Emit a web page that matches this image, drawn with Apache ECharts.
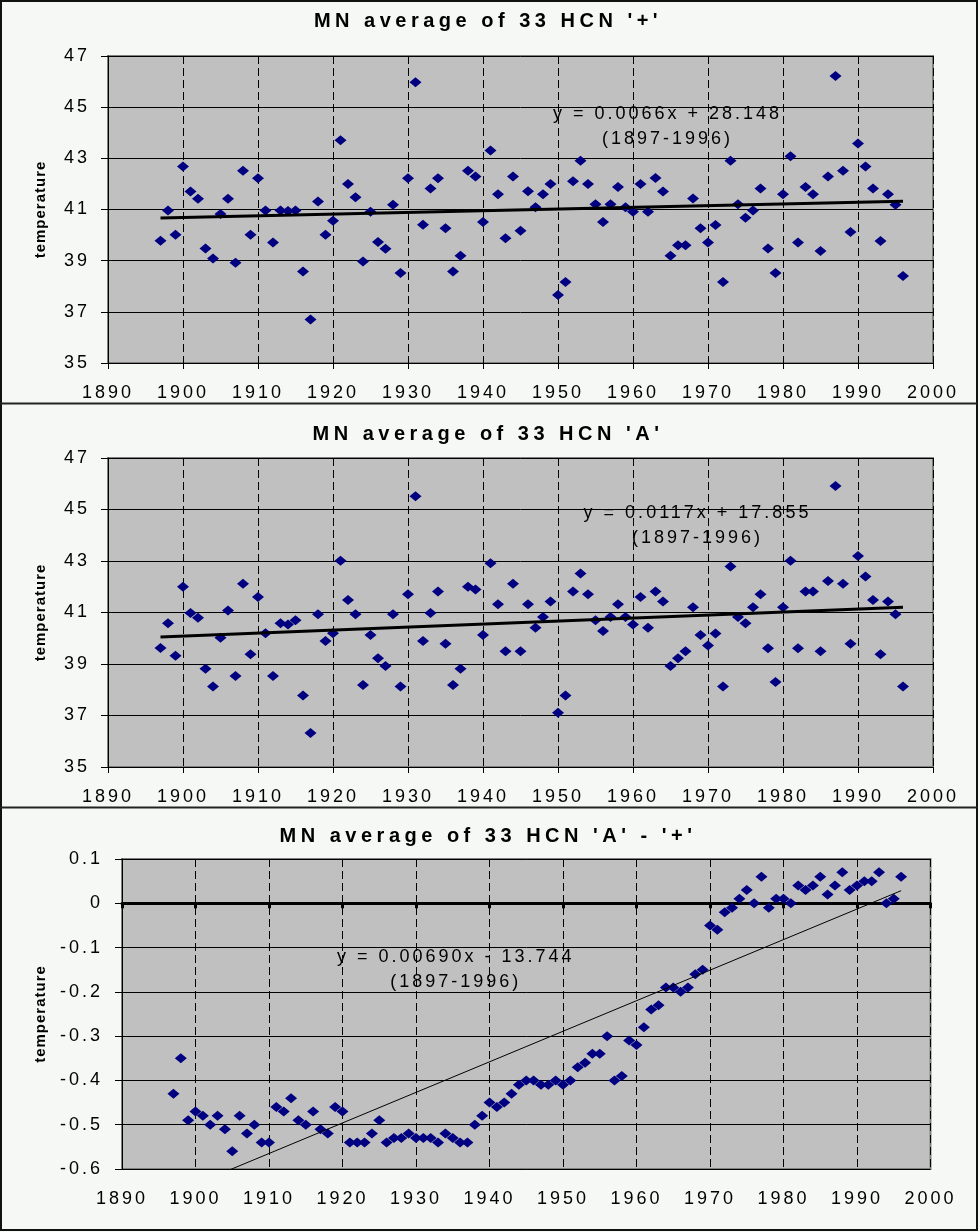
<!DOCTYPE html>
<html>
<head>
<meta charset="utf-8">
<script src="https://cdn.jsdelivr.net/npm/echarts@6/dist/echarts.min.js"></script>
<style>
html,body{margin:0;padding:0;background:#f5f8f5;}
#chart{width:980px;height:1232px;}
</style>
</head>
<body>
<div id="chart"></div>
<script>
// ---- data ----
const startYear = 1897, endYear = 1996;
const years = [];
for (let y = startYear; y <= endYear; y++) years.push(y);

const plusVals = [39.78,40.96,40.01,42.68,41.70,41.42,39.48,39.08,40.82,41.42,
 38.92,42.51,40.01,42.22,40.96,39.71,40.96,40.94,40.96,38.58,
 36.70,41.31,40.01,40.56,43.71,42.00,41.48,38.97,40.91,39.73,
 39.47,41.19,38.52,42.22,45.97,40.40,41.82,42.22,40.27,38.58,
 39.19,42.51,42.29,40.51,43.31,41.60,39.88,42.29,40.17,41.71,
 41.09,41.60,42.00,37.66,38.17,42.10,42.91,42.00,41.21,40.51,
 41.21,41.88,41.09,40.91,42.00,40.91,42.23,41.70,39.19,39.60,
 39.60,41.43,40.27,39.71,40.39,38.17,42.91,41.21,40.68,40.96,
 41.82,39.48,38.52,41.60,43.08,39.71,41.88,41.60,39.38,42.29,
 46.22,42.51,40.12,43.58,42.68,41.82,39.77,41.60,41.19,38.40];

const aVals = [39.62,40.58,39.32,42.00,40.98,40.80,38.82,38.13,40.02,41.08,
 38.53,42.12,39.38,41.60,40.19,38.53,40.58,40.53,40.70,37.78,
 36.32,40.93,39.89,40.19,43.01,41.49,40.93,38.18,40.13,39.22,
 38.92,40.93,38.13,41.71,45.51,39.89,40.98,41.82,39.79,38.18,
 38.82,42.00,41.89,40.13,42.91,41.32,39.50,42.12,39.50,41.32,
 40.41,40.83,41.43,37.11,37.78,41.82,42.51,41.71,40.70,40.28,
 40.83,41.32,40.83,40.53,41.60,40.41,41.82,41.43,38.92,39.22,
 39.50,41.20,40.13,39.72,40.18,38.13,42.79,40.83,40.58,41.20,
 41.71,39.61,38.30,41.20,43.01,39.61,41.82,41.82,39.50,42.22,
 45.91,42.12,39.79,43.19,42.40,41.49,39.38,41.43,40.93,38.13];

const diffVals = [-0.43,-0.35,-0.49,-0.47,-0.48,-0.50,-0.48,-0.51,-0.56,-0.48,
 -0.52,-0.50,-0.54,-0.54,-0.46,-0.47,-0.44,-0.49,-0.50,-0.47,
 -0.51,-0.52,-0.46,-0.47,-0.54,-0.54,-0.54,-0.52,-0.49,-0.54,
 -0.53,-0.53,-0.52,-0.53,-0.53,-0.53,-0.54,-0.52,-0.53,-0.54,
 -0.54,-0.50,-0.48,-0.45,-0.46,-0.45,-0.43,-0.41,-0.40,-0.40,
 -0.41,-0.41,-0.40,-0.41,-0.40,-0.37,-0.36,-0.34,-0.34,-0.30,
 -0.40,-0.39,-0.31,-0.32,-0.28,-0.24,-0.23,-0.19,-0.19,-0.20,
 -0.19,-0.16,-0.15,-0.05,-0.06,-0.02,-0.01,0.01,0.03,0.00,
 0.06,-0.01,0.01,0.01,0.00,0.04,0.03,0.04,0.06,0.02,
 0.04,0.07,0.03,0.04,0.05,0.05,0.07,0.00,0.01,0.06];

const titles = ["MN average of 33 HCN '+'", "MN average of 33 HCN 'A'", "MN average of 33 HCN 'A' - '+'"];
const trendSlopes = [0.0066, 0.0117, 0.00690];
const trendIntercepts = [28.148, 17.855, -13.744];
const equations = ["y = 0.0066x + 28.148", "y = 0.0117x + 17.855", "y = 0.00690x - 13.744"];
const rangeLabel = "(1897-1996)";
const eqAnchors = [[1964.6, 44.26], [1968.6, 44.39], [1935.4, -0.15]];
const xTicks = {min: 1890, max: 2000, interval: 10};
const yTicks = [{min: 35, max: 47, interval: 2}, {min: 35, max: 47, interval: 2}, {min: -0.6, max: 0.1, interval: 0.1}];
const yName = "temperature";

// ---- letter spacing to mimic the spaced-out text of the original ----
(function(){
  const P = CanvasRenderingContext2D.prototype;
  const orig = P.fillText;
  P.fillText = function(t, x, y, m){
    const mm = /(\d+(?:\.\d+)?)px/.exec(this.font || '');
    const s = mm ? parseFloat(mm[1]) : 0;
    let ls = '0px';
    if (s >= 20) ls = '4.5px'; else if (s >= 17) ls = '3px'; else if (s >= 14) ls = '1px';
    try { this.letterSpacing = ls; } catch(e) {}
    return m === undefined ? orig.call(this, t, x, y) : orig.call(this, t, x, y, m);
  };
})();

const FONT = 'Liberation Sans';
const grids = [
  {left: 108, top: 56, width: 825, height: 307},
  {left: 108, top: 458, width: 825, height: 309},
  {left: 122, top: 859, width: 808.5, height: 310}
].map(g => Object.assign(g, {show: true, backgroundColor: '#c0c0c0', borderColor: '#808080', borderWidth: 2, containLabel: false}));

function xAxisBase(gi){
  return {
    type: 'value', gridIndex: gi, min: xTicks.min, max: xTicks.max, interval: xTicks.interval,
    position: 'bottom',
    axisLine: {show: true, onZero: false, lineStyle: {color: '#000', width: 1}},
    axisTick: {show: true, length: 6, lineStyle: {color: '#000'}},
    axisLabel: {fontSize: 18, color: '#000', fontFamily: FONT, margin: 21, formatter: v => String(Math.round(v))},
    splitLine: {show: true, lineStyle: {color: '#000', width: 1, type: [8, 4]}}
  };
}
const xAxes = [xAxisBase(0), xAxisBase(1), xAxisBase(2)];
xAxes[2].axisLine = {show: false, onZero: false};
xAxes[2].axisTick = {show: false};
xAxes.push({
  type: 'value', gridIndex: 2, min: xTicks.min, max: xTicks.max, interval: xTicks.interval,
  position: 'top',
  axisLine: {show: true, onZero: true, lineStyle: {color: '#000', width: 3}},
  axisTick: {show: true, inside: true, length: 5, lineStyle: {color: '#000', width: 3}},
  axisLabel: {show: false},
  splitLine: {show: false}
});

const yAxes = yTicks.map((t, i) => ({
  type: 'value', gridIndex: i, min: t.min, max: t.max, interval: t.interval,
  axisLine: {show: true, onZero: false, lineStyle: {color: '#000', width: 1}},
  axisTick: {show: true, length: 7, lineStyle: {color: '#000'}},
  axisLabel: {fontSize: 18, color: '#000', fontFamily: FONT, margin: i === 2 ? 19 : 18,
    formatter: v => String(+(+v).toFixed(i === 2 ? 1 : 0))},
  splitLine: {show: true, lineStyle: {color: '#000', width: 1}},
  name: yName, nameLocation: 'middle', nameGap: i === 2 ? 74 : 60,
  nameTextStyle: {fontWeight: 'bold', fontSize: 15, color: '#000', fontFamily: FONT}
}));

const seriesVals = [plusVals, aVals, diffVals];
const series = [];
seriesVals.forEach((vals, i) => {
  series.push({
    type: 'scatter', xAxisIndex: i, yAxisIndex: i,
    symbol: 'diamond', symbolSize: [12, 10],
    itemStyle: {color: '#000080', opacity: 1},
    data: years.map((y, k) => [y, vals[k]]),
    silent: true, z: 2
  });
  const a = trendSlopes[i], b = trendIntercepts[i];
  series.push({
    type: 'line', xAxisIndex: i, yAxisIndex: i,
    symbol: 'none', clip: true, silent: true, z: 3,
    lineStyle: {color: '#000', width: i === 2 ? 1 : 3},
    data: [[startYear, a * startYear + b], [endYear, a * endYear + b]],
    markPoint: {
      silent: true, symbolSize: 0,
      data: [{coord: eqAnchors[i], symbolSize: 0,
        label: {show: true, position: 'inside', formatter: equations[i] + '\n' + rangeLabel,
          fontSize: 18, color: '#000', fontFamily: FONT, lineHeight: 25, align: 'center', verticalAlign: 'middle'}}]
    }
  });
});

const titleTops = [6, 419, 821];
const option = {
  animation: false,
  backgroundColor: '#f5f8f5',
  title: titles.map((t, i) => ({
    text: t, left: 483, top: titleTops[i], textAlign: 'center',
    textStyle: {fontSize: 20, fontWeight: 'bold', color: '#000', fontFamily: FONT}
  })),
  grid: grids,
  xAxis: xAxes,
  yAxis: yAxes,
  series: series,
  graphic: [
    {type: 'rect', silent: true, z: 100, shape: {x: 1, y: 1, width: 976, height: 1229}, style: {fill: 'none', stroke: '#111', lineWidth: 2}},
    {type: 'line', silent: true, z: 100, shape: {x1: 0, y1: 403.5, x2: 977, y2: 403.5}, style: {stroke: '#222', lineWidth: 2}},
    {type: 'line', silent: true, z: 100, shape: {x1: 0, y1: 807.5, x2: 977, y2: 807.5}, style: {stroke: '#222', lineWidth: 2}}
  ]
};

const chart = echarts.init(document.getElementById('chart'), null, {renderer: 'canvas', devicePixelRatio: 1});
chart.setOption(option);
</script>
</body>
</html>
